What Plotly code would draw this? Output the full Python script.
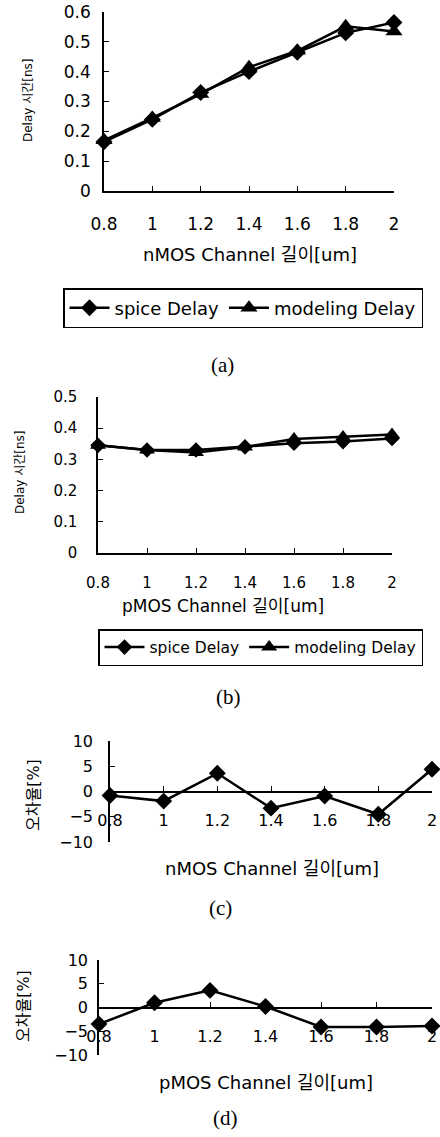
import plotly.graph_objects as go

W, H = 440, 1137

# ---------------- data ----------------
lengths = [0.8, 1.0, 1.2, 1.4, 1.6, 1.8, 2.0]
length_labels = ["0.8", "1", "1.2", "1.4", "1.6", "1.8", "2"]

n_spice = [0.165, 0.240, 0.330, 0.400, 0.465, 0.530, 0.565]
n_model = [0.170, 0.245, 0.325, 0.415, 0.470, 0.552, 0.535]

p_spice = [0.345, 0.330, 0.330, 0.340, 0.352, 0.357, 0.367]
p_model = [0.345, 0.330, 0.322, 0.340, 0.365, 0.372, 0.380]

n_error = [-0.8, -1.9, 3.6, -3.3, -0.9, -4.5, 4.4]
p_error = [-3.5, 1.0, 3.6, 0.2, -4.1, -4.1, -3.9]

delay_ticks_a = [0, 0.1, 0.2, 0.3, 0.4, 0.5, 0.6]
delay_ticks_b = [0, 0.1, 0.2, 0.3, 0.4, 0.5]
err_ticks = [-10, -5, 0, 5, 10]

FONT = "DejaVu Sans, Noto Sans CJK KR, sans-serif"


def px(x):
    return x / W


def py(y):
    return 1 - y / H


fig = go.Figure()

line = dict(color="black", width=2.5)
dia = dict(symbol="diamond", size=13, color="black")
tri = dict(symbol="triangle-up", size=15, color="black")

# (a)
fig.add_trace(go.Scatter(x=lengths, y=n_spice, mode="lines+markers", name="spice Delay",
                         line=line, marker=dia, xaxis="x", yaxis="y", cliponaxis=False,
                         legend="legend"))
fig.add_trace(go.Scatter(x=lengths, y=n_model, mode="lines+markers", name="modeling Delay",
                         line=line, marker=tri, xaxis="x", yaxis="y", cliponaxis=False,
                         legend="legend"))
# (b)
fig.add_trace(go.Scatter(x=lengths, y=p_spice, mode="lines+markers", name="spice Delay",
                         line=line, marker=dict(dia, size=12), xaxis="x2", yaxis="y2",
                         cliponaxis=False, legend="legend2"))
fig.add_trace(go.Scatter(x=lengths, y=p_model, mode="lines+markers", name="modeling Delay",
                         line=line, marker=dict(tri, size=14), xaxis="x2", yaxis="y2",
                         cliponaxis=False, legend="legend2"))
# (c)
fig.add_trace(go.Scatter(x=lengths, y=n_error, mode="lines+markers", showlegend=False,
                         line=line, marker=dia, xaxis="x3", yaxis="y3", cliponaxis=False))
# (d)
fig.add_trace(go.Scatter(x=lengths, y=p_error, mode="lines+markers", showlegend=False,
                         line=line, marker=dia, xaxis="x4", yaxis="y4", cliponaxis=False))

axis_common = dict(showline=True, linecolor="black", linewidth=1.5, showgrid=False,
                   zeroline=False, ticks="inside", ticklen=5, tickcolor="black",
                   tickwidth=1.2, automargin=False)


def xaxis(dom, anchor, size, standoff, position=None):
    d = dict(axis_common, domain=[px(dom[0]), px(dom[1])], range=[0.8, 2.0],
             tickvals=lengths, ticktext=length_labels,
             tickfont=dict(family=FONT, size=size, color="black"),
             ticklabelstandoff=standoff)
    if position is None:
        d["anchor"] = anchor
    else:
        d["anchor"] = "free"
        d["position"] = position
    return d


def yaxis(dom, anchor, rng, ticks, size, standoff):
    return dict(axis_common, domain=[py(dom[1]), py(dom[0])], range=rng, anchor=anchor,
                tickvals=ticks, tickfont=dict(family=FONT, size=size, color="black"),
                ticklabelstandoff=standoff)


layout = dict(
    width=W, height=H, margin=dict(l=0, r=0, t=0, b=0, autoexpand=False),
    paper_bgcolor="white", plot_bgcolor="white", showlegend=True,
    xaxis=xaxis((104, 394), "y", 17, 17),
    yaxis=yaxis((12, 191), "x", [0, 0.6], delay_ticks_a, 17, 8),
    xaxis2=xaxis((98, 392), "y2", 15, 15),
    yaxis2=yaxis((397, 553), "x2", [0, 0.5], delay_ticks_b, 15, 16),
    xaxis3=xaxis((110, 432), "y3", 16, 15, position=py(791.5)),
    yaxis3=yaxis((741, 842), "x3", [-10, 10], err_ticks, 16, 12),
    xaxis4=xaxis((99, 432), "y4", 16, 15, position=py(1007.5)),
    yaxis4=yaxis((960, 1055), "x4", [-10, 10], err_ticks, 16, 6),
    legend=dict(orientation="h", x=px(63), y=py(288), xanchor="left", yanchor="top",
                bordercolor="black", borderwidth=1.5, bgcolor="white",
                font=dict(family=FONT, size=18, color="black"), itemwidth=40,
                tracegroupgap=0),
    legend2=dict(orientation="h", x=px(98), y=py(629), xanchor="left", yanchor="top",
                 bordercolor="black", borderwidth=1.5, bgcolor="white",
                 font=dict(family=FONT, size=15.5, color="black"), itemwidth=40,
                 tracegroupgap=0),
)
fig.update_layout(**layout)

ann = []
# x axis titles
for text, x, y, s in [("nMOS Channel 길이[um]", 250, 254, 18),
                      ("pMOS Channel 길이[um]", 223, 606, 17),
                      ("nMOS Channel 길이[um]", 272, 868, 18),
                      ("pMOS Channel 길이[um]", 266, 1082, 18)]:
    ann.append(dict(text=text, x=px(x), y=py(y), xref="paper", yref="paper",
                    showarrow=False, xanchor="center", yanchor="middle",
                    font=dict(family=FONT, size=s, color="black")))
# y axis titles
for text, x, y, s in [("Delay 시간[ns]", 28, 100, 12),
                      ("Delay 시간[ns]", 20, 472, 12),
                      ("오차율[%]", 33, 795, 16),
                      ("오차율[%]", 23, 1006, 16)]:
    ann.append(dict(text=text, x=px(x), y=py(y), xref="paper", yref="paper",
                    showarrow=False, xanchor="center", yanchor="middle", textangle=-90,
                    font=dict(family=FONT, size=s, color="black")))
# captions
for text, x, y in [("(a)", 222, 365), ("(b)", 228, 697), ("(c)", 220, 908), ("(d)", 225, 1118)]:
    ann.append(dict(text=text, x=px(x), y=py(y), xref="paper", yref="paper",
                    showarrow=False, xanchor="center", yanchor="middle",
                    font=dict(family="Liberation Serif, DejaVu Serif, serif", size=21,
                              color="black")))
fig.update_layout(annotations=ann)

fig.write_html("out.html")
